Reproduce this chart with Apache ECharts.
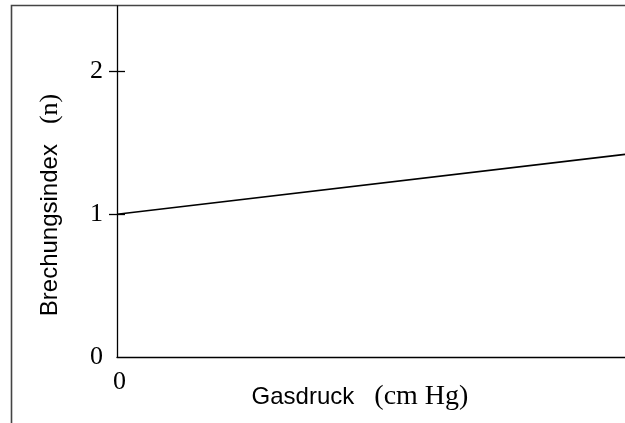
<!DOCTYPE html>
<html>
<head>
<meta charset="utf-8">
<script src="https://cdn.jsdelivr.net/npm/echarts@6/dist/echarts.min.js"></script>
<style>html,body{margin:0;padding:0;background:#fff;}#c{width:625px;height:423px;}</style>
</head>
<body>
<div id="c"></div>
<script>
const pressure = [0, 1];
const refractiveIndex = [1, 1.42];
const yTicks = [1, 2];
const xLabel = 'Gasdruck';
const xUnit = '(cm Hg)';
const yLabel = 'Brechungsindex';
const yUnit = '(n)';

const chart = echarts.init(document.getElementById('c'));
const serif = '"Liberation Serif", "DejaVu Serif", serif';
const sans = '"Liberation Sans", Arial, sans-serif';
const points = pressure.map((p, i) => [p, refractiveIndex[i]]);

chart.setOption({
  animation: false,
  backgroundColor: '#fff',
  graphic: [{
    type: 'rect', silent: true, z: 0,
    shape: { x: 11.5, y: 5.5, width: 800, height: 600 },
    style: { fill: 'none', stroke: '#444', lineWidth: 1.6 }
  }],
  grid: { left: 117, top: 6, right: 0, bottom: 66, containLabel: false, outerBoundsMode: 'none' },
  xAxis: {
    type: 'value', min: 0, max: 1, interval: 1,
    axisLine: { lineStyle: { color: '#000', width: 1.3 } },
    axisTick: { show: false },
    splitLine: { show: false },
    axisLabel: {
      showMaxLabel: false, margin: 12, padding: [0, 0, 0, 5],
      formatter: v => (v === 0 ? '0' : ''),
      fontFamily: serif, fontSize: 26, color: '#000'
    },
    name: '{a|' + xLabel + '   }{b|' + xUnit + '}',
    nameLocation: 'middle', nameGap: 26, nameMoveOverlap: false,
    nameTextStyle: {
      padding: [0, 22, 0, 0],
      rich: {
        a: { fontFamily: sans, fontSize: 24, color: '#000' },
        b: { fontFamily: serif, fontSize: 28, color: '#000' }
      }
    }
  },
  yAxis: [{
    type: 'value', min: 0, max: 2.46, interval: 1,
    axisLine: { show: true, lineStyle: { color: '#000', width: 1.3 } },
    axisTick: { show: true, customValues: yTicks, length: 8, lineStyle: { color: '#000', width: 1.3 } },
    splitLine: { show: false },
    axisLabel: {
      margin: 14, showMaxLabel: false,
      fontFamily: serif, fontSize: 26, color: '#000'
    },
    name: '{a|' + yLabel + '   }{b|' + yUnit + '}',
    nameLocation: 'middle', nameGap: 54, nameMoveOverlap: false,
    nameTextStyle: {
      padding: [0, 47, 0, 0],
      rich: {
        a: { fontFamily: sans, fontSize: 24, color: '#000' },
        b: { fontFamily: serif, fontSize: 26, color: '#000' }
      }
    }
  }, {
    type: 'value', min: 0, max: 2.46, interval: 1, position: 'left',
    axisLine: { show: false },
    axisTick: { show: true, inside: true, customValues: yTicks, length: 8, lineStyle: { color: '#000', width: 1.3 } },
    axisLabel: { show: false },
    splitLine: { show: false }
  }],
  series: [{
    type: 'line',
    data: points,
    showSymbol: false,
    lineStyle: { color: '#000', width: 1.6 },
    silent: true
  }]
});
</script>
</body>
</html>
